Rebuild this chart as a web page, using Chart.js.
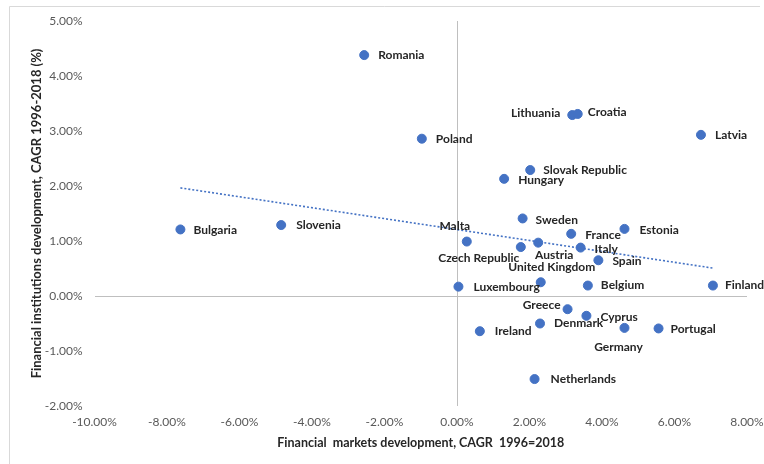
<!DOCTYPE html>
<html>
<head>
<meta charset="utf-8">
<script src="https://cdn.jsdelivr.net/npm/chart.js@4"></script>
<style>
  html, body { margin: 0; padding: 0; background: #fff; }
  canvas { display: block; }
</style>
</head>
<body>
<canvas id="chart" width="764" height="464"></canvas>
<script>
// CAGR 1996-2018, in percent
const countries = [
  'Romania', 'Poland', 'Lithuania', 'Croatia', 'Latvia', 'Slovak Republic', 'Hungary',
  'Sweden', 'France', 'Estonia', 'Malta', 'Czech Republic', 'Austria', 'Italy', 'Spain',
  'United Kingdom', 'Luxembourg', 'Belgium', 'Finland', 'Greece', 'Cyprus', 'Denmark',
  'Ireland', 'Germany', 'Portugal', 'Netherlands', 'Bulgaria', 'Slovenia'
];
const marketsGrowth = [
  -2.56, -0.97, 3.18, 3.33, 6.73, 2.02, 1.30,
  1.81, 3.15, 4.62, 0.27, 1.76, 2.24, 3.41, 3.90,
  2.31, 0.04, 3.61, 7.06, 3.05, 3.57, 2.29,
  0.63, 4.62, 5.56, 2.14, -7.63, -4.85
];
const institutionsGrowth = [
  4.38, 2.86, 3.29, 3.31, 2.93, 2.29, 2.13,
  1.41, 1.13, 1.22, 0.99, 0.89, 0.97, 0.88, 0.65,
  0.25, 0.17, 0.19, 0.19, -0.24, -0.36, -0.50,
  -0.64, -0.58, -0.59, -1.51, 1.21, 1.29
];
const xTicks = [-10, -8, -6, -4, -2, 0, 2, 4, 6, 8];
const yTicks = [-2, -1, 0, 1, 2, 3, 4, 5];

// where each data label sits next to its point: [align, dx, dy]
const labelSpots = [
  ['l', 14, 0], ['l', 14, 0], ['r', -12, -2], ['l', 10, -2], ['l', 14, 0], ['l', 13, 0], ['l', 14, 1],
  ['l', 13, 2], ['l', 14, 1], ['l', 15, 1], ['c', -12, -15], ['c', -42, 11], ['c', 16, 12], ['l', 14, 2], ['l', 14, 1],
  ['c', 11, -15], ['l', 15, 0], ['l', 13, 0], ['l', 12, 0], ['r', -7, -4], ['l', 14, 1], ['l', 14, 0],
  ['l', 15, 0], ['c', -6, 19], ['l', 12, 1], ['l', 16, 0], ['l', 13, 1], ['l', 15, 0]
];

const FONT = 'Lato, "Open Sans", sans-serif';
const BLUE = '#4472C4';

// linear trend (least squares) from the data
const n = marketsGrowth.length;
const mx = marketsGrowth.reduce((a, b) => a + b, 0) / n;
const my = institutionsGrowth.reduce((a, b) => a + b, 0) / n;
let sxy = 0, sxx = 0;
for (let i = 0; i < n; i++) {
  sxy += (marketsGrowth[i] - mx) * (institutionsGrowth[i] - my);
  sxx += (marketsGrowth[i] - mx) ** 2;
}
const slope = sxy / sxx;
const icpt = my - slope * mx;
const xMin = Math.min(...marketsGrowth);
const xMax = Math.max(...marketsGrowth);
const trendPoints = [xMin, xMax].map(x => ({ x: x, y: icpt + slope * x }));

const points = marketsGrowth.map((x, i) => ({ x: x, y: institutionsGrowth[i] }));

const pointLabels = {
  id: 'pointLabels',
  afterDatasetsDraw(chart) {
    const ctx = chart.ctx;
    const meta = chart.getDatasetMeta(1);
    ctx.save();
    ctx.font = 'bold 12px ' + FONT;
    ctx.fillStyle = '#262626';
    ctx.textBaseline = 'middle';
    meta.data.forEach((el, i) => {
      const [al, dx, dy] = labelSpots[i];
      ctx.textAlign = al === 'l' ? 'left' : al === 'r' ? 'right' : 'center';
      ctx.fillText(countries[i], el.x + dx, el.y + dy);
    });
    ctx.restore();
  }
};

const frame = {
  id: 'frame',
  beforeDraw(chart) {
    const ctx = chart.ctx;
    ctx.save();
    ctx.fillStyle = '#fff';
    ctx.fillRect(0, 0, chart.width, chart.height);
    ctx.strokeStyle = '#D9D9D9';
    ctx.lineWidth = 1;
    ctx.beginPath();
    ctx.moveTo(9.5, chart.height);
    ctx.lineTo(9.5, 6.5);
    ctx.lineTo(760, 6.5);
    ctx.stroke();
    ctx.restore();
  }
};

const zeroLine = ctx => (ctx.tick && ctx.tick.value === 0) ? '#BFBFBF' : 'rgba(0,0,0,0)';

new Chart(document.getElementById('chart'), {
  type: 'scatter',
  data: {
    datasets: [
      {
        type: 'line',
        label: 'Trend',
        data: trendPoints,
        borderColor: BLUE,
        borderWidth: 1.6,
        borderDash: [2, 2],
        pointRadius: 0,
        fill: false
      },
      {
        label: 'Countries',
        data: points,
        backgroundColor: BLUE,
        borderColor: BLUE,
        pointRadius: 4.5,
        pointHoverRadius: 4.5
      }
    ]
  },
  options: {
    responsive: false,
    animation: false,
    layout: { padding: { left: 10, top: 21, right: 17, bottom: 0 } },
    plugins: {
      legend: { display: false },
      tooltip: { enabled: false }
    },
    scales: {
      x: {
        type: 'linear',
        min: -10,
        max: 8,
        afterBuildTicks: scale => { scale.ticks = xTicks.map(v => ({ value: v })); },
        afterFit: scale => {
          scale.height = 58;
          scale.paddingLeft = 0;
          scale.paddingRight = 0;
        },
        border: { display: false },
        grid: { color: zeroLine, drawTicks: false, lineWidth: 1 },
        ticks: {
          padding: 9,
          color: '#595959',
          font: { family: FONT, size: 12 },
          callback: v => v.toFixed(2) + '%'
        },
        title: {
          display: true,
          text: 'Financial  markets development, CAGR  1996=2018',
          color: '#262626',
          font: { family: FONT, size: 12.5, weight: 'bold' },
          padding: { top: 0, bottom: 14 }
        }
      },
      y: {
        type: 'linear',
        min: -2,
        max: 5,
        afterBuildTicks: scale => { scale.ticks = yTicks.map(v => ({ value: v })); },
        afterFit: scale => {
          scale.width = 84.5;
          scale.paddingTop = 0;
          scale.paddingBottom = 0;
        },
        border: { display: false },
        grid: { color: zeroLine, drawTicks: false, lineWidth: 1 },
        ticks: {
          padding: 12,
          color: '#595959',
          font: { family: FONT, size: 12 },
          callback: v => v.toFixed(2) + '%'
        },
        title: {
          display: true,
          text: 'Financial institutions development, CAGR 1996-2018 (%)',
          color: '#262626',
          font: { family: FONT, size: 13, weight: 'bold' },
          padding: { top: 19, bottom: 0 }
        }
      }
    }
  },
  plugins: [frame, pointLabels]
});
</script>
</body>
</html>
